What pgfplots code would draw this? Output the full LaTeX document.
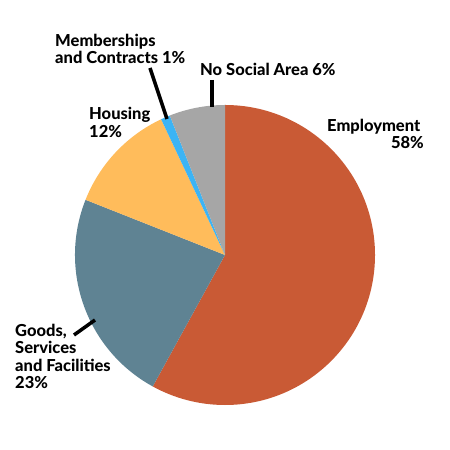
\documentclass[border=0pt]{standalone}
\usepackage{pgfplots}
\pgfplotsset{compat=1.18}
\usepackage{fontspec}
\setmainfont{Lato}[BoldFont={* Heavy}]
\definecolor{cEmp}{HTML}{C95A35}
\definecolor{cGoods}{HTML}{5F8393}
\definecolor{cHouse}{HTML}{FFBC5B}
\definecolor{cMem}{HTML}{3CB4F5}
\definecolor{cNone}{HTML}{A6A6A6}
\newcommand\lab{\fontsize{16.5bp}{20bp}\selectfont\bfseries}

% shares in percent
\def\vEmp{58}
\def\vGoods{23}
\def\vHouse{12}
\def\vMem{1}
\def\vNone{6}
% slice boundaries, clockwise from the top
\pgfmathsetmacro\aA{90}
\pgfmathsetmacro\aB{\aA-\vEmp*3.6}
\pgfmathsetmacro\aC{\aB-\vGoods*3.6}
\pgfmathsetmacro\aD{\aC-\vHouse*3.6}
\pgfmathsetmacro\aE{\aD-\vMem*3.6}
\pgfmathsetmacro\aF{\aE-\vNone*3.6}

\begin{document}
\begin{tikzpicture}
\begin{axis}[
    width=450bp, height=450bp, scale only axis,
    xmin=0, xmax=450, ymin=0, ymax=450,
    hide axis, clip=false,
]
\path (axis cs:0,0) rectangle (axis cs:450,450);
\fill[cEmp]   (axis cs:225,195) -- ++(\aA:150bp) arc[start angle=\aA, end angle=\aB, radius=150bp] -- cycle;
\fill[cGoods] (axis cs:225,195) -- ++(\aB:150bp) arc[start angle=\aB, end angle=\aC, radius=150bp] -- cycle;
\fill[cHouse] (axis cs:225,195) -- ++(\aC:150bp) arc[start angle=\aC, end angle=\aD, radius=150bp] -- cycle;
\fill[cMem]   (axis cs:225,195) -- ++(\aD:150bp) arc[start angle=\aD, end angle=\aE, radius=150bp] -- cycle;
\fill[cNone]  (axis cs:225,195) -- ++(\aE:150bp) arc[start angle=\aE, end angle=\aF, radius=150bp] -- cycle;
% leader lines
\draw[line width=3.5bp] (axis cs:150,382) -- (axis cs:167,331);
\draw[line width=3.5bp] (axis cs:212,370) -- (axis cs:212,343);
\draw[line width=3.5bp] (axis cs:95,130) -- (axis cs:74,115);
% labels
\node[anchor=base west, inner sep=0, font=\lab] at (axis cs:55,403) {Memberships};
\node[anchor=base west, inner sep=0, font=\lab] at (axis cs:55,386) {and Contracts 1\%};
\node[anchor=base west, inner sep=0, font=\lab] at (axis cs:200,374) {No Social Area 6\%};
\node[anchor=base west, inner sep=0, font=\lab] at (axis cs:89,330) {Housing};
\node[anchor=base west, inner sep=0, font=\lab] at (axis cs:89,312) {12\%};
\node[anchor=base west, inner sep=0, font=\lab] at (axis cs:327,318) {Employment};
\node[anchor=base east, inner sep=0, font=\lab] at (axis cs:424,301) {58\%};
\node[anchor=base west, inner sep=0, font=\lab] at (axis cs:15,113) {Goods,};
\node[anchor=base west, inner sep=0, font=\lab] at (axis cs:15,96) {Services};
\node[anchor=base west, inner sep=0, font=\lab] at (axis cs:15,78) {and Facilities};
\node[anchor=base west, inner sep=0, font=\lab] at (axis cs:15,61) {23\%};
\end{axis}
\end{tikzpicture}
\end{document}
